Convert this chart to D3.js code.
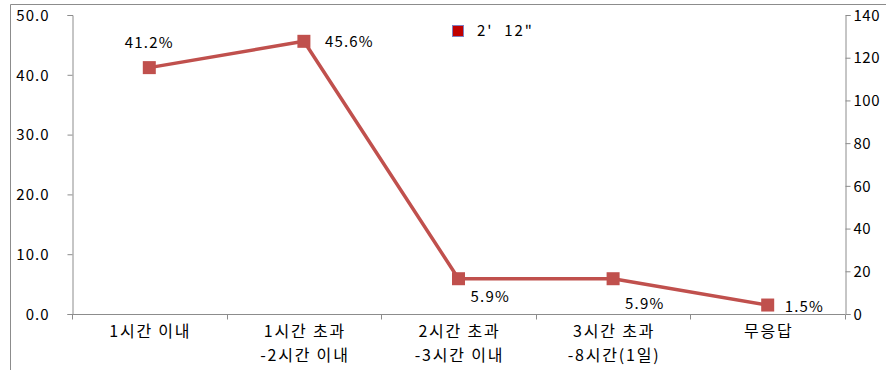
<!DOCTYPE html>
<html>
<head>
<meta charset="utf-8">
<script src="https://cdn.jsdelivr.net/npm/d3@7/dist/d3.min.js"></script>
<style>
  html, body { margin: 0; padding: 0; background: #fff; }
  svg { display: block; }
  text { font-family: "Noto Sans CJK KR", "DejaVu Sans", sans-serif; fill: #000; }
</style>
</head>
<body>
<svg id="chart" width="886" height="370"></svg>
<script>
// Response-time categories (two-line labels split with "\n")
const categories = ["1시간 이내", "1시간 초과\n-2시간 이내", "2시간 초과\n-3시간 이내", "3시간 초과\n-8시간(1일)", "무응답"];
const shares = [41.2, 45.6, 5.9, 5.9, 1.5];
const leftTicks = [0, 10, 20, 30, 40, 50];
const rightTicks = [0, 20, 40, 60, 80, 100, 120, 140];
const legendLabel = "2'  12\"";

// Label placement relative to each marker (dx, dy, anchor)
const labelPlacement = [
  { dx: 0, dy: -25, anchor: "middle" },
  { dx: 21, dy: 0, anchor: "start" },
  { dx: 12, dy: 18, anchor: "start" },
  { dx: 12, dy: 25, anchor: "start" },
  { dx: 17, dy: 2, anchor: "start" }
];

const svg = d3.select("#chart");
const plot = { left: 72, right: 845, top: 15, bottom: 314 };
const axisColor = "#8c8c8c";

// outer frame edges
svg.append("line").attr("x1", 10.5).attr("x2", 886).attr("y1", 4.5).attr("y2", 4.5)
  .attr("stroke", axisColor).attr("stroke-width", 1);
svg.append("line").attr("x1", 10.5).attr("x2", 10.5).attr("y1", 4.5).attr("y2", 370)
  .attr("stroke", axisColor).attr("stroke-width", 1);

const x = d3.scaleBand().domain(categories).range([plot.left, plot.right]).padding(0);
const yL = d3.scaleLinear().domain([0, 50]).range([plot.bottom, plot.top]);
const yR = d3.scaleLinear().domain([0, 140]).range([plot.bottom, plot.top]);

// left axis
const gL = svg.append("g").attr("transform", `translate(${plot.left + 0.5},0)`)
  .call(d3.axisLeft(yL).tickValues(leftTicks).tickFormat(d3.format(".1f")).tickSize(5).tickPadding(18));
gL.selectAll("text").attr("font-size", 15).attr("dy", "0.35em").attr("letter-spacing", 1);

// right axis
const gR = svg.append("g").attr("transform", `translate(${plot.right + 0.5},0)`)
  .call(d3.axisRight(yR).tickValues(rightTicks).tickFormat(d3.format("d")).tickSize(5).tickPadding(3));
gR.selectAll("text").attr("font-size", 15).attr("dy", "0.35em").attr("letter-spacing", 0.5);

// bottom axis with ticks at category boundaries
const gB = svg.append("g").attr("transform", `translate(0,${plot.bottom + 0.5})`);
gB.append("line").attr("x1", plot.left).attr("x2", plot.right).attr("stroke", axisColor);
const bounds = categories.map(c => x(c)).concat([plot.right]);
gB.selectAll("line.tk").data(bounds).join("line").attr("class", "tk")
  .attr("x1", d => Math.round(d) + 0.5).attr("x2", d => Math.round(d) + 0.5)
  .attr("y1", 0).attr("y2", 5).attr("stroke", axisColor);
gB.selectAll("text.cat").data(categories).join("text").attr("class", "cat")
  .attr("text-anchor", "middle").attr("font-size", 16).attr("letter-spacing", 1.8)
  .attr("transform", d => `translate(${x(d) + x.bandwidth() / 2 + 1},0)`)
  .each(function(d) {
    const t = d3.select(this);
    d.split("\n").forEach((line, i) => {
      t.append("tspan").attr("x", 0).attr("y", 22 + i * 24).text(line);
    });
  });

[gL, gR].forEach(g => {
  g.select(".domain").attr("stroke", axisColor);
  g.selectAll(".tick line").attr("stroke", axisColor);
});

// series line and markers
const cx = d => x(d) + x.bandwidth() / 2;
const pts = categories.map((c, i) => [cx(c), yL(shares[i])]);
svg.append("path").datum(pts)
  .attr("d", d3.line())
  .attr("fill", "none").attr("stroke", "#c0504d").attr("stroke-width", 3.5)
  .attr("stroke-linejoin", "round");
svg.selectAll("rect.mk").data(pts).join("rect").attr("class", "mk")
  .attr("x", d => d[0] - 6.5).attr("y", d => d[1] - 6.5)
  .attr("width", 13).attr("height", 13).attr("fill", "#c0504d");

// value labels
svg.selectAll("text.val").data(pts).join("text").attr("class", "val")
  .attr("x", (d, i) => d[0] + labelPlacement[i].dx)
  .attr("y", (d, i) => d[1] + labelPlacement[i].dy)
  .attr("dy", "0.35em")
  .attr("text-anchor", (d, i) => labelPlacement[i].anchor)
  .attr("font-size", 15).attr("letter-spacing", 1.2)
  .text((d, i) => shares[i].toFixed(1) + "%");

// legend
const lg = svg.append("g").attr("transform", "translate(452,25)");
lg.append("rect").attr("x", 0.5).attr("y", 0.5).attr("width", 11).attr("height", 11)
  .attr("fill", "#c00000").attr("stroke", "#8080c0").attr("stroke-width", 1);
lg.append("text").attr("x", 25).attr("y", 6).attr("dy", "0.35em")
  .attr("font-size", 15).attr("letter-spacing", 2).attr("xml:space", "preserve").text(legendLabel);
</script>
</body>
</html>
